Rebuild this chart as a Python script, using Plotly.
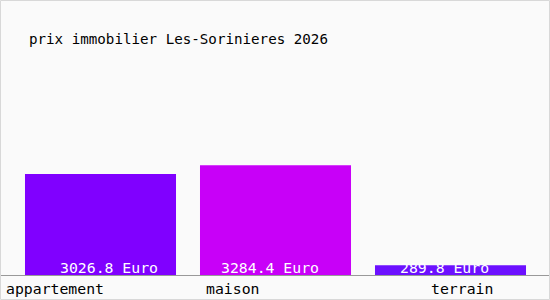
import plotly.graph_objects as go

categories = ["appartement", "maison", "terrain"]
values = [3026.8, 3284.4, 289.8]
value_labels = ["3026.8 Euro", "3284.4 Euro", "289.8 Euro"]
colors = ["#8000ff", "#c800f8", "#6c10ff"]
title = "prix immobilier Les-Sorinieres 2026"

W, H = 550, 300
mt, mb = 75, 25
plot_h = H - mt - mb
FONT = "DejaVu Sans Mono"

x_idx = list(range(len(categories)))

fig = go.Figure()
fig.add_trace(go.Bar(
    x=x_idx, y=values, width=0.863,
    marker=dict(color=colors, line=dict(width=0)),
    hoverinfo="skip",
))

annotations = []
val_shift = [8, -6, -6]
cat_shift = [-46, -43, 11]
for i, (c, v, lab) in enumerate(zip(categories, values, value_labels)):
    annotations.append(dict(
        x=i, y=0, xref="x", yref="y", text=lab, showarrow=False,
        xanchor="center", yanchor="middle", yshift=8, xshift=val_shift[i],
        font=dict(family=FONT, size=14.8, color="white"),
    ))
    annotations.append(dict(
        x=i, y=0, xref="x", yref="y", text=c, showarrow=False,
        xanchor="center", yanchor="middle", yshift=-13, xshift=cat_shift[i],
        font=dict(family=FONT, size=14.8, color="black"),
    ))
annotations.append(dict(
    x=27 / W, y=1 + (mt - 39) / plot_h, xref="paper", yref="paper",
    text=title, showarrow=False, xanchor="left", yanchor="middle",
    font=dict(family=FONT, size=14.2, color="black"),
))

fig.update_layout(
    width=W, height=H,
    margin=dict(l=0, r=0, t=mt, b=mb, pad=0),
    paper_bgcolor="#fafafa", plot_bgcolor="#fafafa",
    showlegend=False,
    xaxis=dict(range=[-100.5 / 175, (W - 100.5) / 175], showticklabels=False,
               showgrid=False, zeroline=False, showline=True,
               linecolor="#999999", linewidth=1, ticks=""),
    yaxis=dict(range=[0, 5990], showticklabels=False, showgrid=False,
               zeroline=False, showline=False, ticks=""),
    annotations=annotations,
    shapes=[dict(type="rect", xref="paper", yref="paper",
                 x0=0.5 / W, x1=1 - 0.5 / W,
                 y0=-(mb - 0.5) / plot_h, y1=1 + (mt - 0.5) / plot_h,
                 line=dict(color="#d8d8d8", width=1), layer="above")],
)

fig.write_html("out.html")
